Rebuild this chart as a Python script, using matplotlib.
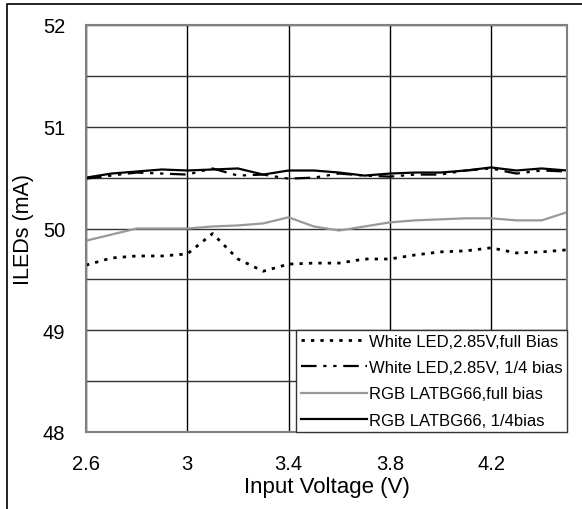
import numpy as np
import matplotlib
matplotlib.use("Agg")
import matplotlib.pyplot as plt
from matplotlib.patches import Rectangle

plt.rcParams['font.family'] = ['Liberation Sans', 'DejaVu Sans']

# Input voltage sweep (V)
vin = [2.6, 2.7, 2.8, 2.9, 3.0, 3.1, 3.2, 3.3, 3.4, 3.5,
       3.6, 3.7, 3.8, 3.9, 4.0, 4.1, 4.2, 4.3, 4.4, 4.5]

# LED currents (mA)
white_full = [49.64, 49.71, 49.73, 49.73, 49.75, 49.95, 49.70, 49.58, 49.65, 49.66,
              49.66, 49.70, 49.70, 49.74, 49.77, 49.78, 49.81, 49.76, 49.77, 49.79]
white_quarter = [50.49, 50.52, 50.55, 50.54, 50.53, 50.59, 50.52, 50.53, 50.49, 50.50,
                 50.54, 50.52, 50.51, 50.53, 50.53, 50.57, 50.59, 50.54, 50.57, 50.56]
rgb_full = [49.88, 49.94, 50.00, 50.00, 50.00, 50.02, 50.03, 50.05, 50.11, 50.02,
            49.98, 50.02, 50.06, 50.08, 50.09, 50.10, 50.10, 50.08, 50.08, 50.16]
rgb_quarter = [50.50, 50.54, 50.56, 50.58, 50.57, 50.58, 50.59, 50.53, 50.57, 50.57,
               50.55, 50.52, 50.54, 50.55, 50.55, 50.57, 50.60, 50.57, 50.59, 50.57]

labels = ["White LED,2.85V,full Bias",
          "White LED,2.85V, 1/4 bias",
          "RGB LATBG66,full bias",
          "RGB LATBG66, 1/4bias"]

x_ticks = [2.6, 3.0, 3.4, 3.8, 4.2]
y_ticks = [48, 49, 50, 51, 52]

fig = plt.figure(figsize=(5.82, 5.10), dpi=100)
# outer frame (page crop)
fig.patches.append(Rectangle((7 / 582, -0.1), 1.2, 1 - 5 / 510 + 0.1,
                             transform=fig.transFigure, fill=False,
                             edgecolor='black', linewidth=1.2))

ax = fig.add_axes([86 / 582, 1 - 433 / 510, (567 - 86) / 582, (433 - 26) / 510])

ax.plot(vin, white_full, color='black', linestyle=(0, (1.2, 2.2)), linewidth=2.0,
        label=labels[0])
ax.plot(vin, white_quarter, color='black', linestyle=(0, (7, 3, 1.5, 3, 1.5, 3)),
        linewidth=1.6, label=labels[1])
ax.plot(vin, rgb_full, color='#999999', linewidth=1.6, label=labels[2])
ax.plot(vin, rgb_quarter, color='black', linewidth=1.6, label=labels[3])

ax.set_xlim(2.6, 4.5)
ax.set_ylim(48, 52)
ax.set_xticks(x_ticks)
ax.set_xticklabels([f"{v:g}" for v in x_ticks])
ax.set_yticks(y_ticks)
ax.set_yticks(np.arange(48.5, 52, 1.0), minor=True)
ax.tick_params(axis='both', which='both', length=0, labelsize=14.5)
ax.tick_params(axis='y', pad=15)
ax.tick_params(axis='x', pad=16)

ax.grid(True, axis='x', color='black', linewidth=1.0)
ax.grid(True, axis='y', which='both', color='#333333', linewidth=1.0)
ax.set_axisbelow(True)

for s in ax.spines.values():
    s.set_color('#808080')
    s.set_linewidth(1.5)

ax.set_xlabel("Input Voltage (V)", fontsize=16, labelpad=2)
ax.set_ylabel("ILEDs (mA)", fontsize=15.5, labelpad=6)

leg = ax.legend(loc='lower right', fontsize=12, frameon=True, fancybox=False,
                edgecolor='#333333', framealpha=1, handlelength=4.0,
                handletextpad=0.12, labelspacing=0.68, borderaxespad=0,
                borderpad=0.25)
leg.get_frame().set_linewidth(1.0)

fig.savefig("out.png", dpi=100)
